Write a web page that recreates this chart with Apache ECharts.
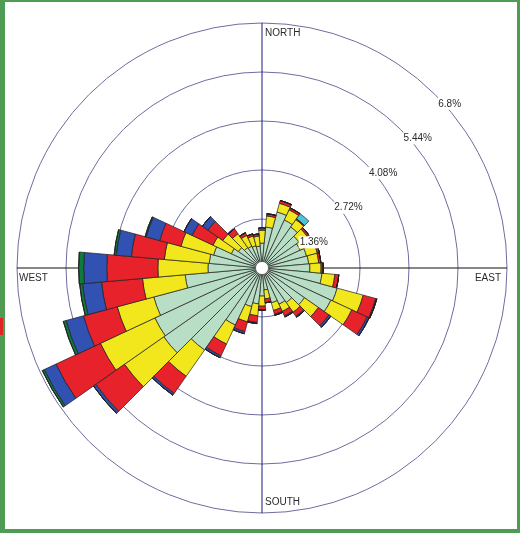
<!DOCTYPE html>
<html>
<head>
<meta charset="utf-8">
<script src="https://cdn.jsdelivr.net/npm/echarts/dist/echarts.min.js"></script>
<style>
  html, body { margin: 0; padding: 0; background: #fff; }
  #frame { position: absolute; left: 0; top: 0; width: 520px; height: 533px; box-sizing: border-box;
           border-style: solid; border-color: #4f9b53; border-width: 2px 3px 4px 5px; background: #fff; }
  #mark { position: absolute; left: 0; top: 318px; width: 3px; height: 17px; background: #e02323; }
  #chart { position: absolute; left: 0; top: 0; width: 520px; height: 533px; }
</style>
</head>
<body>
<div id="frame"></div>
<div id="mark"></div>
<div id="chart"></div>
<script>
// Wind directions (degrees, clockwise from north), one 10-degree sector each
const directions = ['0','10','20','30','40','50','60','70','80','90','100','110',
                    '120','130','140','150','160','170','180','190','200','210','220','230',
                    '240','250','260','270','280','290','300','310','320','330','340','350'];

// Frequency (%) per wind-speed class and direction
const speedClass1 = [0.69,1.14,1.61,1.47,1.39,1.25,1.17,1.28,1.30,1.33,1.67,2.16,
                     2.11,1.44,1.17,1.11,1.00,0.61,0.78,1.00,1.11,1.75,2.78,3.33,
                     3.28,3.11,2.14,1.50,1.47,1.39,0.94,0.80,0.69,0.67,0.64,0.61];
const speedClass2 = [0.36,0.31,0.25,0.31,0.25,0.28,0.25,0.31,0.28,0.31,0.36,0.75,
                     0.64,0.47,0.33,0.22,0.22,0.25,0.28,0.33,0.44,0.58,0.89,1.33,
                     1.67,1.05,1.19,1.39,1.25,0.94,0.56,0.53,0.47,0.33,0.28,0.28];
const speedClass3 = [0.06,0.06,0.08,0.06,0.03,0.06,0.06,0.06,0.06,0.06,0.11,0.36,
                     0.47,0.36,0.14,0.14,0.11,0.11,0.11,0.19,0.28,0.36,0.58,0.97,
                     1.36,0.97,1.14,1.42,0.92,0.61,0.64,0.50,0.17,0.08,0.06,0.06];
const speedClass4 = [0,0,0,0,0,0,0,0,0,0,0,0.03,
                     0.06,0.06,0.03,0.03,0.03,0,0,0.03,0.06,0.06,0.06,0.08,
                     0.36,0.50,0.53,0.64,0.42,0.39,0.25,0.19,0,0,0,0];
const speedClass5 = [0,0,0,0,0,0,0,0,0,0,0,0,
                     0,0,0,0,0,0,0,0,0,0,0,0,
                     0.06,0.08,0.08,0.14,0.06,0.03,0,0,0,0,0,0];
const speedClass6 = [0,0,0,0,0.17,0,0,0,0,0,0,0,
                     0,0,0,0,0,0,0,0,0,0,0,0,
                     0,0,0,0,0,0,0,0,0,0,0,0];

// Frequency rings and compass captions
const ringTicks = [1.36, 2.72, 4.08, 5.44, 6.8];
const ringLabels = ['1.36%', '2.72%', '4.08%', '5.44%', '6.8%'];
const compassLabels = ['NORTH', 'EAST', 'SOUTH', 'WEST'];

const classData = [speedClass1, speedClass2, speedClass3, speedClass4, speedClass5, speedClass6];
const classColors = ['#b9dec6', '#f1e71c', '#e8222b', '#3151b3', '#0f7a3c', '#4cc3d6'];

const CX = 262, CY = 268, R = 245;
const FONT = '10px "Liberation Sans", Arial, sans-serif';

const chart = echarts.init(document.getElementById('chart'), null, { renderer: 'canvas' });

const series = classData.map((values, i) => ({
  type: 'bar',
  coordinateSystem: 'polar',
  polarIndex: 0,
  stack: 'rose',
  barCategoryGap: '0%',
  data: values,
  itemStyle: { color: classColors[i], borderColor: '#1e1e1e', borderWidth: 0.7 },
  emphasis: { disabled: true },
  silent: true,
  z: 3
}));

chart.setOption({
  animation: false,
  backgroundColor: 'transparent',
  polar: [
    { center: [CX, CY], radius: [0, R] },
    { center: [CX, CY], radius: [0, R] }
  ],
  angleAxis: [
    {
      polarIndex: 0, type: 'category', data: directions,
      startAngle: 95, clockwise: true, boundaryGap: true,
      axisLine: { show: false }, axisTick: { show: false },
      axisLabel: { show: false }, splitLine: { show: false }
    },
    {
      polarIndex: 1, type: 'value', min: 0, max: 360, interval: 90,
      startAngle: 90, clockwise: true,
      axisLine: { show: false }, axisTick: { show: false }, axisLabel: { show: false },
      splitLine: { show: true, lineStyle: { color: ['#1b1b7d', '#111111', '#1b1b7d', '#111111'], width: 1 } }
    }
  ],
  radiusAxis: [
    {
      polarIndex: 0, type: 'value', min: 0, max: 6.8, interval: 1.36,
      axisLine: { show: false }, axisTick: { show: false }, axisLabel: { show: false },
      splitLine: { show: true, lineStyle: { color: '#6d6d9e', width: 1 } }
    },
    {
      polarIndex: 1, type: 'value', min: 0, max: 6.8, interval: 1.36,
      axisLine: { show: false }, axisTick: { show: false }, axisLabel: { show: false },
      splitLine: { show: false }
    }
  ],
  series: series
});

// Ring captions sit at the 45-degree point of each ring
function ringPoint(v) {
  let p = null;
  try { p = chart.convertToPixel({ polarIndex: 1 }, [v, 45]); } catch (e) { p = null; }
  if (!p) {
    const r = v / 6.8 * R;
    p = [CX + r * Math.SQRT1_2, CY - r * Math.SQRT1_2];
  }
  return p;
}

const graphics = ringTicks.map((v, i) => {
  const p = ringPoint(v);
  return {
    type: 'text', x: p[0] + 2, y: p[1] + 9, z: 10,
    style: {
      text: ringLabels[i], font: FONT, fill: '#2a2a2a',
      align: 'left', verticalAlign: 'middle',
      backgroundColor: '#ffffff', padding: [1, 1, 1, 1]
    }
  };
});

// Compass captions
const compassPos = [
  { x: CX + 3, y: CY - R + 10, align: 'left' },
  { x: CX + R - 6, y: CY + 10, align: 'right' },
  { x: CX + 3, y: CY + R - 11, align: 'left' },
  { x: CX - R + 2, y: CY + 10, align: 'left' }
];
compassLabels.forEach((t, i) => {
  graphics.push({
    type: 'text', x: compassPos[i].x, y: compassPos[i].y, z: 10,
    style: { text: t, font: FONT, fill: '#2a2a2a', align: compassPos[i].align, verticalAlign: 'middle' }
  });
});

// White hub at the centre of the rose
graphics.push({
  type: 'circle', shape: { cx: CX, cy: CY, r: 6.5 }, z: 10,
  style: { fill: '#ffffff', stroke: '#444', lineWidth: 0.6 }
});

chart.setOption({ graphic: graphics });
</script>
</body>
</html>
